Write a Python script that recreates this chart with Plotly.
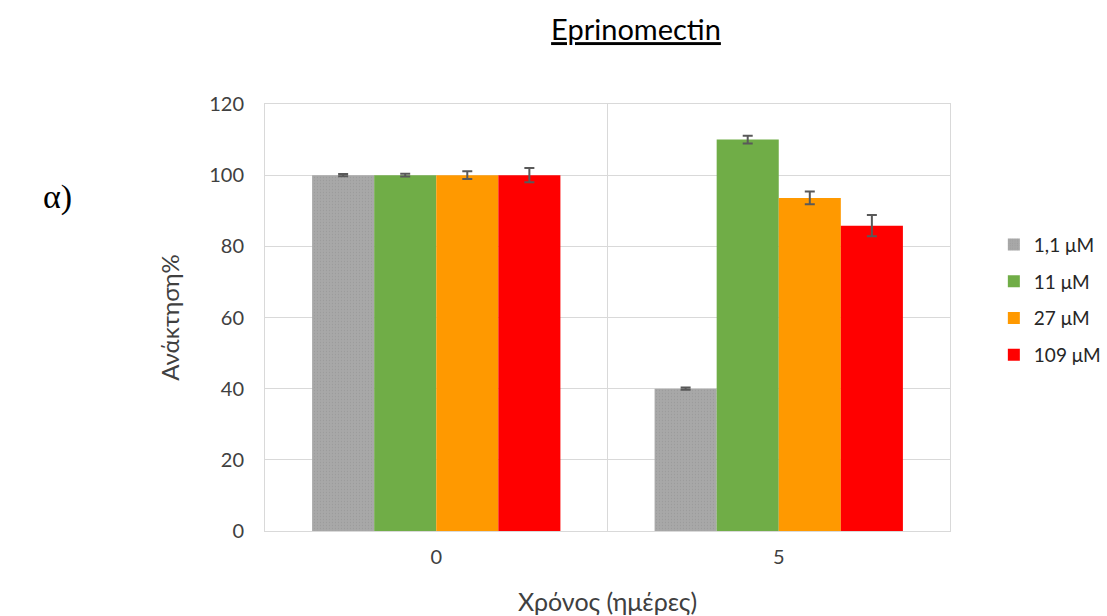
import plotly.graph_objects as go

categories = ["0", "5"]
series_names = ["1,1 μM", "11 μM", "27 μM", "109 μM"]
values = {
    "1,1 μM": [100, 40],
    "11 μM": [100, 110],
    "27 μM": [100, 93.6],
    "109 μM": [100, 85.8],
}
errors = {
    "1,1 μM": [0.3, 0.3],
    "11 μM": [0.4, 1.1],
    "27 μM": [1.1, 1.8],
    "109 μM": [2.0, 3.0],
}
colors = {
    "1,1 μM": "#a5a5a5",
    "11 μM": "#70ad47",
    "27 μM": "#ff9900",
    "109 μM": "#ff0000",
}
y_ticks = [0, 20, 40, 60, 80, 100, 120]

font_family = "Lato, Open Sans, sans-serif"

fig = go.Figure()
for i, name in enumerate(series_names):
    marker = dict(color=colors[name], line=dict(width=0))
    if i == 0:
        marker["pattern"] = dict(shape=".", fgcolor="#8f8f8f", bgcolor="#a8a8a8",
                                 size=3, solidity=0.15)
    fig.add_trace(go.Bar(
        x=categories, y=values[name], name=name,
        legendgroup=name,
        marker=marker,
        error_y=dict(type="data", array=errors[name], color="#595959",
                     thickness=2, width=5),
    ))

fig.update_layout(
    width=1107, height=616,
    paper_bgcolor="white", plot_bgcolor="white",
    margin=dict(l=265, r=157, t=104, b=85, autoexpand=False),
    barmode="group", bargap=0.275, bargroupgap=0,
    font=dict(family=font_family, size=20, color="#404040"),
    title=dict(text="<u>Eprinomectin</u>", x=(636 / 1107), xanchor="center",
               y=1 - 30 / 616, yanchor="middle",
               font=dict(size=29, color="#000000", family=font_family)),
    legend=dict(x=1.064, xanchor="left", y=0.715, yanchor="top",
                font=dict(size=19, color="#262626"),
                tracegroupgap=9, itemwidth=30, bgcolor="rgba(0,0,0,0)"),
    showlegend=True,
)
fig.update_xaxes(
    showgrid=False, showline=True, linecolor="#d9d9d9", linewidth=1, mirror=True,
    ticks="", tickfont=dict(size=20, color="#404040"), ticklabelstandoff=8,
    title=dict(text="Χρόνος (ημέρες)", font=dict(size=25, color="#404040"), standoff=32),
)
fig.update_yaxes(
    range=[0, 120], tickvals=y_ticks, showgrid=True, gridcolor="#d9d9d9", gridwidth=1,
    showline=True, linecolor="#d9d9d9", linewidth=1, mirror=True, zeroline=False,
    ticks="", tickfont=dict(size=20, color="#404040"), ticklabelstandoff=16,
    title=dict(text="Ανάκτηση%", font=dict(size=24, color="#404040"), standoff=22),
)
# vertical separator between categories
fig.add_shape(type="line", xref="x", yref="paper", x0=0.5, x1=0.5, y0=0, y1=1,
              line=dict(color="#d9d9d9", width=1), layer="below")
fig.add_annotation(text="α)", xref="paper", yref="paper",
                   x=(57 - 265) / 685, y=(531 - 197) / 427, showarrow=False,
                   xanchor="center", yanchor="middle",
                   font=dict(family="Liberation Serif, serif", size=34, color="#000000"))

fig.write_html("out.html")
